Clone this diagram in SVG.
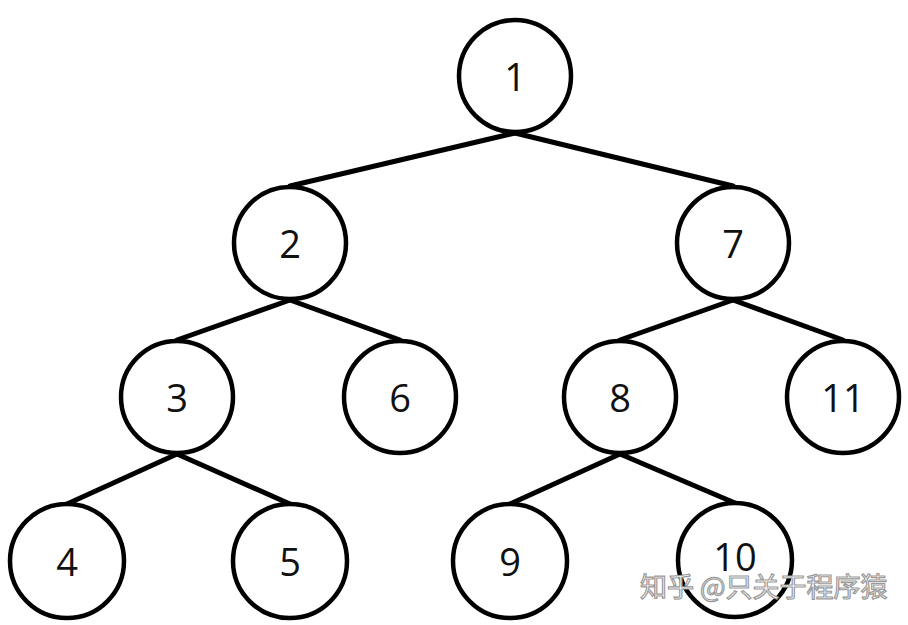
<svg xmlns="http://www.w3.org/2000/svg" width="908" height="625" viewBox="0 0 908 625">
<style>
.n circle{fill:#fff;stroke:#000;stroke-width:4.5}
.n text{font-family:"Open Sans","Liberation Sans",sans-serif;font-size:38px;fill:#111;text-anchor:middle;dominant-baseline:central}
#edges line{stroke:#000;stroke-width:5;stroke-linecap:round}
.wm{font-family:"Noto Sans CJK SC","Noto Sans",sans-serif;font-size:27px;fill:#fff;stroke:#9a9a9a;stroke-width:1.2}
</style>
<rect width="908" height="625" fill="#fff"/>
<g id="edges">
<line x1="515" y1="133" x2="290" y2="186"/>
<line x1="515" y1="133" x2="733" y2="186"/>
<line x1="290" y1="300" x2="177" y2="340"/>
<line x1="290" y1="300" x2="400" y2="340"/>
<line x1="733" y1="300" x2="620" y2="340"/>
<line x1="733" y1="300" x2="843" y2="340"/>
<line x1="177" y1="454" x2="67" y2="504"/>
<line x1="177" y1="454" x2="290" y2="504"/>
<line x1="620" y1="454" x2="510" y2="504"/>
<line x1="620" y1="454" x2="735" y2="503"/>
</g>
<g id="node1" class="n"><circle cx="515" cy="76" r="56"/><text x="515" y="76">1</text></g>
<g id="node2" class="n"><circle cx="290" cy="243" r="56"/><text x="290" y="243">2</text></g>
<g id="node7" class="n"><circle cx="733" cy="243" r="56"/><text x="733" y="243">7</text></g>
<g id="node3" class="n"><circle cx="177" cy="397" r="56"/><text x="177" y="397">3</text></g>
<g id="node6" class="n"><circle cx="400" cy="397" r="56"/><text x="400" y="397">6</text></g>
<g id="node8" class="n"><circle cx="620" cy="397" r="56"/><text x="620" y="397">8</text></g>
<g id="node11" class="n"><circle cx="843" cy="397" r="56"/><text x="843" y="397">11</text></g>
<g id="node4" class="n"><circle cx="67" cy="561" r="57"/><text x="67" y="561">4</text></g>
<g id="node5" class="n"><circle cx="290" cy="561" r="57"/><text x="290" y="561">5</text></g>
<g id="node9" class="n"><circle cx="510" cy="561" r="57"/><text x="510" y="561">9</text></g>
<g id="node10" class="n"><circle cx="735" cy="560" r="57"/><text x="735" y="556">10</text></g>
<text class="wm" x="640" y="597">知乎 @只关于程序猿</text>
</svg>
